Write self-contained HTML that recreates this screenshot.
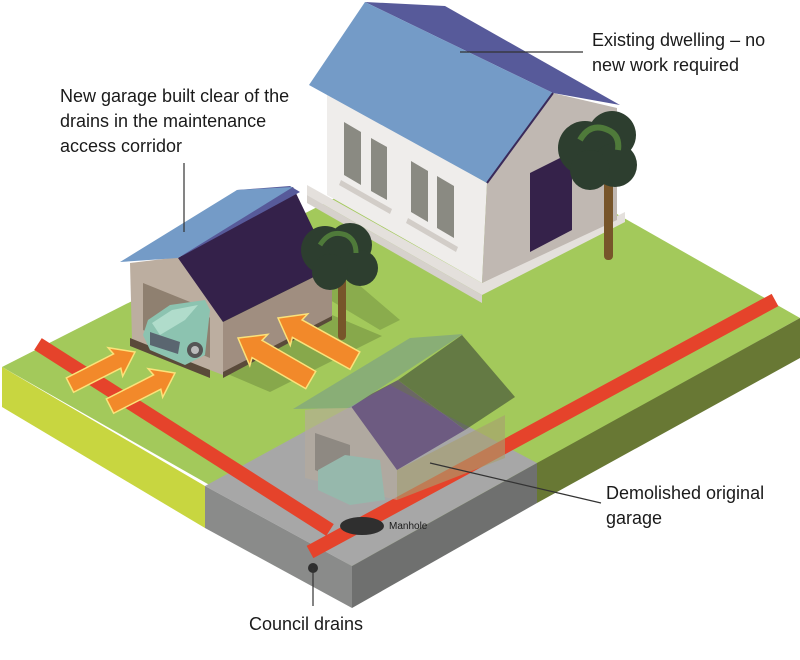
<!DOCTYPE html>
<html><head><meta charset="utf-8"><style>
html,body{margin:0;padding:0;background:#fff;}
svg{display:block;}
text{font-family:"Liberation Sans",sans-serif;fill:#1a1a1a;}
</style></head><body>
<svg width="800" height="660" viewBox="0 0 800 660" xmlns="http://www.w3.org/2000/svg">
<polygon points="2,367 469,130 800,318 352,566" fill="#a3c95b"/>
<polygon points="2,367 205,486 205,528 2,407" fill="#c8d640"/>
<polygon points="537,463 800,318 800,358 537,503" fill="#687834"/>
<polygon points="205,486 390,385 537,463 352,566" fill="#a7a7a7"/>
<polygon points="205,486 352,566 352,608 205,528" fill="#8a8b8a"/>
<polygon points="352,566 537,463 537,503 352,608" fill="#6f706f"/>
<line x1="38" y1="344" x2="330" y2="530" stroke="#e5432b" stroke-width="14"/>
<line x1="310" y1="552" x2="775" y2="300" stroke="#e5432b" stroke-width="14"/>
<ellipse cx="362" cy="526" rx="22" ry="9" fill="#2f2f2f"/>
<circle cx="313" cy="568" r="5" fill="#2f2f2f"/>
<polygon points="223,372 332,315 382,336 270,392" fill="#7a9a45" opacity="0.7"/>
<polygon points="330,260 330,300 380,330 400,320" fill="#7a9a45" opacity="0.6"/>
<polygon points="307,195 482,295 625,222 625,212 482,283 307,185" fill="#e4e0dc"/>
<polygon points="307,195 482,295 482,303 307,203" fill="#d6d1cc"/>
<polygon points="327,92 487,183 482,283 327,195" fill="#efedeb"/>
<polygon points="487,183 553,93 617,108 617,220 482,283" fill="#c0b8b2"/>
<polygon points="530,173 572,152 572,230 530,252" fill="#35224a"/>
<polygon points="344,122 361,132 361,185 344,175" fill="#8a8a82"/>
<polygon points="371,138 387,147 387,200 371,191" fill="#8a8a82"/>
<polygon points="411,161 428,171 428,222 411,212" fill="#8a8a82"/>
<polygon points="437,176 454,186 454,238 437,228" fill="#8a8a82"/>
<polygon points="341,180 392,209 390,214 339,185" fill="#d2cdc8"/>
<polygon points="408,218 458,247 456,252 406,223" fill="#d2cdc8"/>
<polygon points="365,2 445,6 620,105 553,93" fill="#575a9a"/>
<polygon points="309,85 365,2 553,93 487,183" fill="#749bc7"/>
<line x1="487" y1="183" x2="553" y2="93" stroke="#3a2a5a" stroke-width="2"/>
<rect x="604" y="165" width="9" height="95" rx="4" fill="#77552a"/>
<circle cx="585" cy="148" r="27" fill="#2d3e2f"/>
<circle cx="612" cy="135" r="24" fill="#2d3e2f"/>
<circle cx="615" cy="165" r="22" fill="#2d3e2f"/>
<circle cx="590" cy="170" r="20" fill="#2d3e2f"/>
<path d="M580,140 q10,-18 28,-10 q12,5 10,20" fill="none" stroke="#4f7a3a" stroke-width="6"/>
<polygon points="130,263 180,257 223,322 223,375 132,340" fill="#bcaea0"/>
<polygon points="223,322 332,268 332,318 223,375" fill="#a08e80"/>
<polygon points="223,372 332,316 332,320 223,378" fill="#5a4a3a"/>
<polygon points="143,283 200,306 210,318 210,358 143,330" fill="#8f8070"/>
<polygon points="130,338 210,370 210,378 130,346" fill="#5a4a3a"/>
<polygon points="178,258 293,187 332,268 223,322" fill="#34214a"/>
<polygon points="237,190 290,186 300,192 182,256" fill="#575a9a"/>
<polygon points="120,262 237,190 293,187 178,258" fill="#749bc7"/>
<polygon points="148,320 170,305 205,300 210,310 205,355 185,365 150,350 143,335" fill="#8cc3b0"/>
<polygon points="152,323 172,310 198,305 185,320 160,335" fill="#b0dccb"/>
<polygon points="150,332 180,342 178,354 150,345" fill="#5a6670"/>
<circle cx="195" cy="350" r="8" fill="#555"/>
<circle cx="195" cy="350" r="4" fill="#bbb"/>
<rect x="338" y="270" width="8" height="70" rx="4" fill="#77552a"/>
<circle cx="325" cy="250" r="24" fill="#2d3e2f"/>
<circle cx="350" cy="245" r="22" fill="#2d3e2f"/>
<circle cx="360" cy="268" r="18" fill="#2d3e2f"/>
<circle cx="330" cy="272" r="18" fill="#2d3e2f"/>
<path d="M320,245 q10,-16 26,-10 q10,5 10,18" fill="none" stroke="#4f7a3a" stroke-width="5"/>
<g fill="#f2892a" stroke="#fbe27a" stroke-width="1.5">
<polygon transform="translate(135,352) rotate(-27)" points="0,0 -22,-16 -20,-8 -73,-8 -73,8 -20,8 -22,16"/>
<polygon transform="translate(175,373) rotate(-27)" points="0,0 -22,-16 -20,-8 -73,-8 -73,8 -20,8 -22,16"/>
<polygon transform="translate(238,338) rotate(-150)" points="0,0 -24,-18 -22,-10 -84,-10 -84,10 -22,10 -24,18"/>
<polygon transform="translate(278,318) rotate(-151)" points="0,0 -24,-18 -22,-10 -88,-10 -88,10 -22,10 -24,18"/>
</g>
<g opacity="0.62">
<polygon points="305,410 350,405 397,470 397,500 305,478" fill="#b7ab9c"/>
<polygon points="397,470 505,415 505,458 397,500" fill="#a8a070"/>
<polygon points="315,433 350,445 350,485 315,470" fill="#7f776c"/>
<polygon points="318,470 345,455 380,460 385,500 350,505 318,490" fill="#8cc3b0"/>
<polygon points="350,405 398,380 465,430 397,470" fill="#4a2e6a"/>
<polygon points="462,335 515,397 465,430 398,380" fill="#3f4a36"/>
<polygon points="293,409 410,338 463,334 350,408" fill="#7a9e88"/>
</g>
<g stroke="#333" stroke-width="1.2" fill="none">
<line x1="460" y1="52" x2="583" y2="52"/>
<line x1="184" y1="163" x2="184" y2="232"/>
<line x1="430" y1="463" x2="601" y2="503"/>
<line x1="313" y1="568" x2="313" y2="606"/>
</g>
<text x="592" y="46" font-size="18">Existing dwelling – no</text>
<text x="592" y="71" font-size="18">new work required</text>
<text x="60" y="102" font-size="18">New garage built clear of the</text>
<text x="60" y="127" font-size="18">drains in the maintenance</text>
<text x="60" y="152" font-size="18">access corridor</text>
<text x="606" y="499" font-size="18">Demolished original</text>
<text x="606" y="524" font-size="18">garage</text>
<text x="249" y="630" font-size="18">Council drains</text>
<text x="389" y="529" font-size="10">Manhole</text>
</svg>
</body></html>
